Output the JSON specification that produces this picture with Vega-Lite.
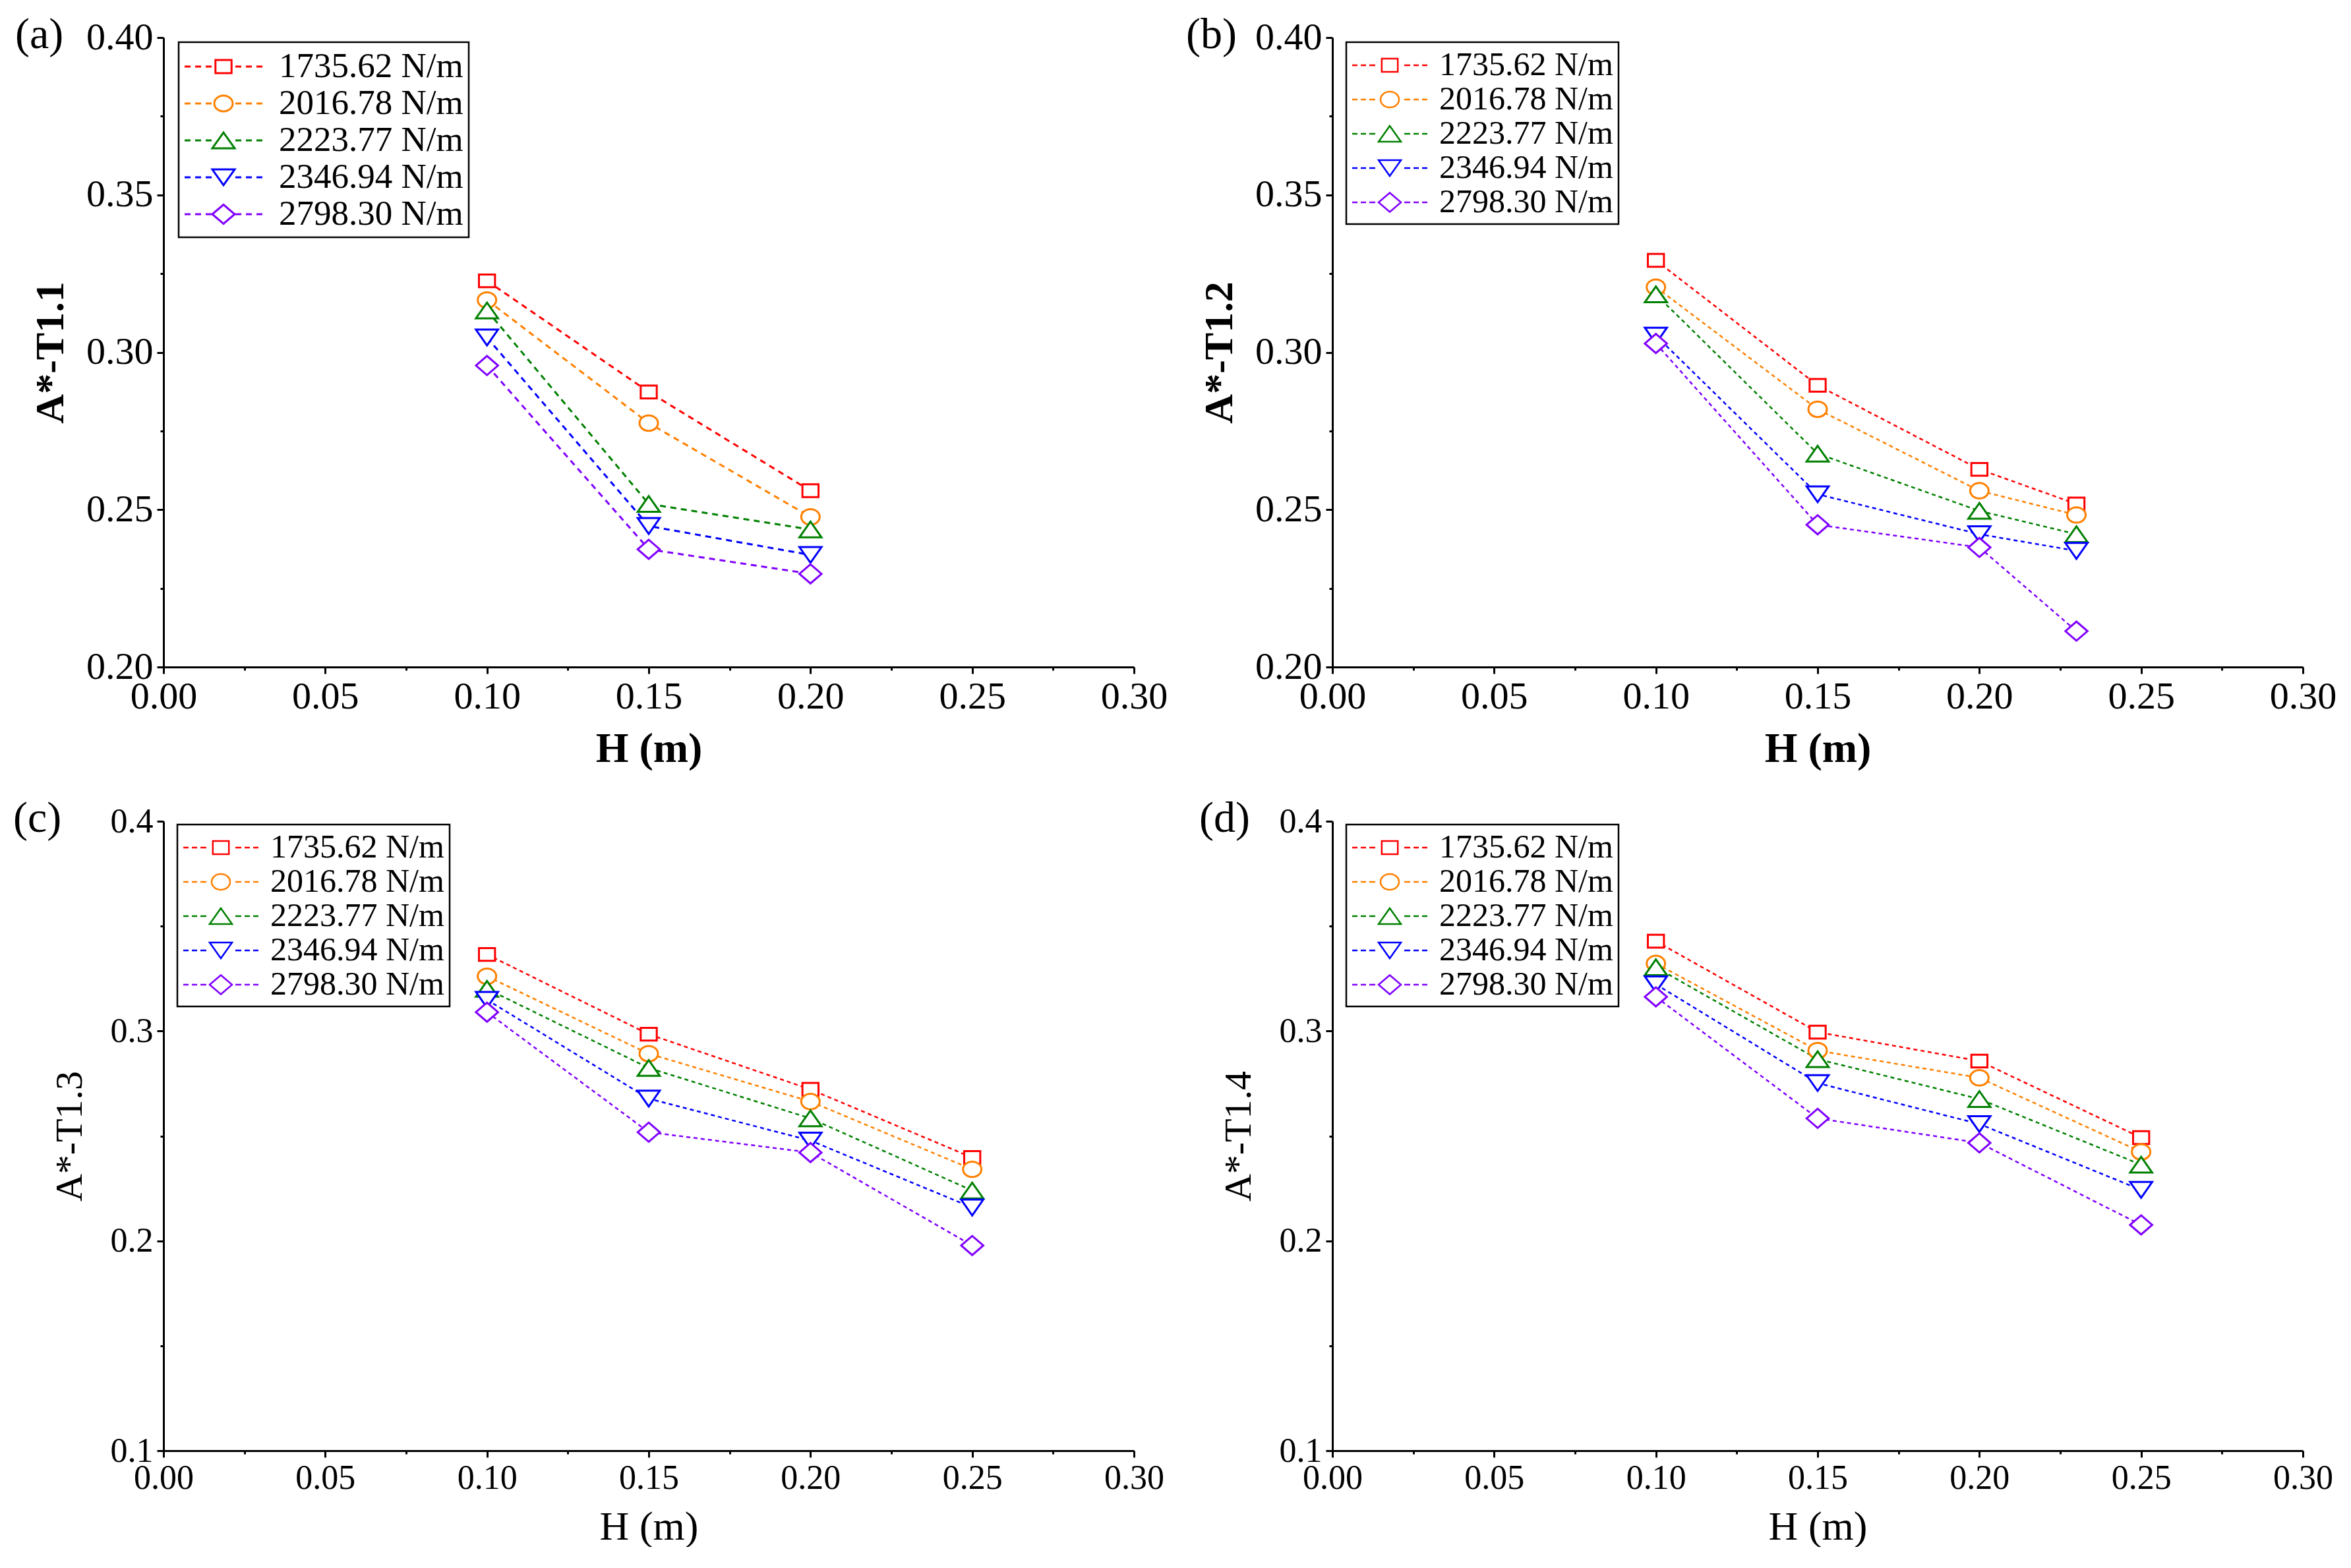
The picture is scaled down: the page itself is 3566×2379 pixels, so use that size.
{
  "$schema": "https://vega.github.io/schema/vega-lite/v6.json",
  "padding": {"left": 20, "top": 20, "right": 0, "bottom": 0},
  "background": "white",
  "datasets": {
    "a": [
      {"H": 0.10, "A": 0.3227, "s": "1735.62 N/m"}, {"H": 0.15, "A": 0.2874, "s": "1735.62 N/m"}, {"H": 0.20, "A": 0.2560, "s": "1735.62 N/m"},
      {"H": 0.10, "A": 0.3166, "s": "2016.78 N/m"}, {"H": 0.15, "A": 0.2775, "s": "2016.78 N/m"}, {"H": 0.20, "A": 0.2477, "s": "2016.78 N/m"},
      {"H": 0.10, "A": 0.3133, "s": "2223.77 N/m"}, {"H": 0.15, "A": 0.2518, "s": "2223.77 N/m"}, {"H": 0.20, "A": 0.2437, "s": "2223.77 N/m"},
      {"H": 0.10, "A": 0.3047, "s": "2346.94 N/m"}, {"H": 0.15, "A": 0.2448, "s": "2346.94 N/m"}, {"H": 0.20, "A": 0.2356, "s": "2346.94 N/m"},
      {"H": 0.10, "A": 0.2958, "s": "2798.30 N/m"}, {"H": 0.15, "A": 0.2374, "s": "2798.30 N/m"}, {"H": 0.20, "A": 0.2296, "s": "2798.30 N/m"}
    ],
    "b": [
      {"H": 0.10, "A": 0.3292, "s": "1735.62 N/m"}, {"H": 0.15, "A": 0.2895, "s": "1735.62 N/m"}, {"H": 0.20, "A": 0.2628, "s": "1735.62 N/m"}, {"H": 0.23, "A": 0.2518, "s": "1735.62 N/m"},
      {"H": 0.10, "A": 0.3207, "s": "2016.78 N/m"}, {"H": 0.15, "A": 0.2819, "s": "2016.78 N/m"}, {"H": 0.20, "A": 0.2560, "s": "2016.78 N/m"}, {"H": 0.23, "A": 0.2483, "s": "2016.78 N/m"},
      {"H": 0.10, "A": 0.3184, "s": "2223.77 N/m"}, {"H": 0.15, "A": 0.2678, "s": "2223.77 N/m"}, {"H": 0.20, "A": 0.2496, "s": "2223.77 N/m"}, {"H": 0.23, "A": 0.2422, "s": "2223.77 N/m"},
      {"H": 0.10, "A": 0.3053, "s": "2346.94 N/m"}, {"H": 0.15, "A": 0.2549, "s": "2346.94 N/m"}, {"H": 0.20, "A": 0.2422, "s": "2346.94 N/m"}, {"H": 0.23, "A": 0.2369, "s": "2346.94 N/m"},
      {"H": 0.10, "A": 0.3028, "s": "2798.30 N/m"}, {"H": 0.15, "A": 0.2452, "s": "2798.30 N/m"}, {"H": 0.20, "A": 0.2380, "s": "2798.30 N/m"}, {"H": 0.23, "A": 0.2114, "s": "2798.30 N/m"}
    ],
    "c": [
      {"H": 0.10, "A": 0.3365, "s": "1735.62 N/m"}, {"H": 0.15, "A": 0.2985, "s": "1735.62 N/m"}, {"H": 0.20, "A": 0.2722, "s": "1735.62 N/m"}, {"H": 0.25, "A": 0.2397, "s": "1735.62 N/m"},
      {"H": 0.10, "A": 0.3261, "s": "2016.78 N/m"}, {"H": 0.15, "A": 0.2892, "s": "2016.78 N/m"}, {"H": 0.20, "A": 0.2664, "s": "2016.78 N/m"}, {"H": 0.25, "A": 0.2341, "s": "2016.78 N/m"},
      {"H": 0.10, "A": 0.3201, "s": "2223.77 N/m"}, {"H": 0.15, "A": 0.2824, "s": "2223.77 N/m"}, {"H": 0.20, "A": 0.2584, "s": "2223.77 N/m"}, {"H": 0.25, "A": 0.2240, "s": "2223.77 N/m"},
      {"H": 0.10, "A": 0.3149, "s": "2346.94 N/m"}, {"H": 0.15, "A": 0.2678, "s": "2346.94 N/m"}, {"H": 0.20, "A": 0.2478, "s": "2346.94 N/m"}, {"H": 0.25, "A": 0.2159, "s": "2346.94 N/m"},
      {"H": 0.10, "A": 0.3090, "s": "2798.30 N/m"}, {"H": 0.15, "A": 0.2518, "s": "2798.30 N/m"}, {"H": 0.20, "A": 0.2421, "s": "2798.30 N/m"}, {"H": 0.25, "A": 0.1978, "s": "2798.30 N/m"}
    ],
    "d": [
      {"H": 0.10, "A": 0.3428, "s": "1735.62 N/m"}, {"H": 0.15, "A": 0.2995, "s": "1735.62 N/m"}, {"H": 0.20, "A": 0.2857, "s": "1735.62 N/m"}, {"H": 0.25, "A": 0.2492, "s": "1735.62 N/m"},
      {"H": 0.10, "A": 0.3322, "s": "2016.78 N/m"}, {"H": 0.15, "A": 0.2907, "s": "2016.78 N/m"}, {"H": 0.20, "A": 0.2777, "s": "2016.78 N/m"}, {"H": 0.25, "A": 0.2424, "s": "2016.78 N/m"},
      {"H": 0.10, "A": 0.3304, "s": "2223.77 N/m"}, {"H": 0.15, "A": 0.2866, "s": "2223.77 N/m"}, {"H": 0.20, "A": 0.2676, "s": "2223.77 N/m"}, {"H": 0.25, "A": 0.2363, "s": "2223.77 N/m"},
      {"H": 0.10, "A": 0.3223, "s": "2346.94 N/m"}, {"H": 0.15, "A": 0.2752, "s": "2346.94 N/m"}, {"H": 0.20, "A": 0.2557, "s": "2346.94 N/m"}, {"H": 0.25, "A": 0.2243, "s": "2346.94 N/m"},
      {"H": 0.10, "A": 0.3163, "s": "2798.30 N/m"}, {"H": 0.15, "A": 0.2584, "s": "2798.30 N/m"}, {"H": 0.20, "A": 0.2467, "s": "2798.30 N/m"}, {"H": 0.25, "A": 0.2076, "s": "2798.30 N/m"}
    ]
  },
  "columns": 2,
  "bounds": "flush",
  "spacing": {"row": 234, "column": 301},
  "resolve": {
    "scale": {"color": "independent", "shape": "independent"},
    "legend": {"color": "independent", "shape": "independent"}
  },
  "concat": [
    {
      "width": 1472,
      "height": 955,
      "data": {"name": "a"},
      "title": {"text": "(a)", "anchor": "start", "frame": "group", "offset": 0, "dx": -225, "dy": 91, "baseline": "middle", "fontSize": 66, "fontWeight": "normal", "font": "Liberation Serif", "color": "black"},
      "encoding": {
        "x": {
          "field": "H", "type": "quantitative",
          "scale": {"domain": [0, 0.3], "nice": false, "zero": false},
          "axis": {
            "title": "H (m)", "titleFontWeight": "bold", "titleFontSize": 64, "titlePadding": 18,
            "labelFontSize": 58,
            "values": [0, 0.025, 0.05, 0.075, 0.1, 0.125, 0.15, 0.175, 0.2, 0.225, 0.25, 0.275, 0.3],
            "labelExpr": "abs(datum.value*20-round(datum.value*20))>0.01 ? '' : format(datum.value,'.2f')",
            "tickSize": {"condition": {"test": "abs(datum.value*20-round(datum.value*20))>0.01", "value": 5}, "value": 10}
          }
        },
        "y": {
          "field": "A", "type": "quantitative",
          "scale": {"domain": [0.2, 0.4], "nice": false, "zero": false},
          "axis": {
            "title": "A*-T1.1", "titleFontWeight": "bold", "titleFontSize": 62, "titlePadding": 22,
            "labelFontSize": 58,
            "values": [0.2, 0.225, 0.25, 0.275, 0.3, 0.325, 0.35, 0.375, 0.4],
            "labelExpr": "abs(datum.value*20-round(datum.value*20))>0.01 ? '' : format(datum.value,'.2f')",
            "tickSize": {"condition": {"test": "abs(datum.value*20-round(datum.value*20))>0.01", "value": 5}, "value": 10}
          }
        }
      },
      "layer": [
        {
          "mark": {"type": "line", "strokeWidth": 3, "strokeDash": [9, 7]},
          "encoding": {
            "color": {
              "field": "s", "type": "nominal",
              "scale": {"domain": ["1735.62 N/m", "2016.78 N/m", "2223.77 N/m", "2346.94 N/m", "2798.30 N/m"], "range": ["#FF0000", "#FF8000", "#008000", "#0000FF", "#8000FF"]},
              "legend": {
                "orient": "none", "legendX": 23, "legendY": 7, "title": null,
                "symbolSize": 3025, "symbolOffset": 31, "rowPadding": 0, "padding": 8,
                "labelFontSize": 53, "labelOffset": 55, "labelLimit": 1000,
                "encode": {"symbols": {"update": {
                  "shape": {"signal": "['M-2.145,0L-1.818,0M-1.564,0L-1.236,0M-0.982,0L-0.655,0M0.655,0L0.982,0M1.236,0L1.564,0M1.818,0L2.145,0M-0.444,-0.364L0.444,-0.364L0.444,0.364L-0.444,0.364Z','M-2.145,0L-1.818,0M-1.564,0L-1.236,0M-0.982,0L-0.655,0M0.655,0L0.982,0M1.236,0L1.564,0M1.818,0L2.145,0M0.509,0A0.509 0.436 0 1 1 -0.509 0A0.509 0.436 0 1 1 0.509 0Z','M-2.145,0L-1.818,0M-1.564,0L-1.236,0M-0.982,0L-0.655,0M0.655,0L0.982,0M1.236,0L1.564,0M1.818,0L2.145,0M0,-0.436L0.618,0.436L-0.618,0.436Z','M-2.145,0L-1.818,0M-1.564,0L-1.236,0M-0.982,0L-0.655,0M0.655,0L0.982,0M1.236,0L1.564,0M1.818,0L2.145,0M0,0.436L0.618,-0.436L-0.618,-0.436Z','M-2.145,0L-1.818,0M-1.564,0L-1.236,0M-0.982,0L-0.655,0M0.655,0L0.982,0M1.236,0L1.564,0M1.818,0L2.145,0M-0.618,0L0,-0.527L0.618,0L0,0.527Z'][datum.index]"},
                  "strokeDash": {"value": []},
                  "strokeWidth": {"value": 3},
                  "fill": {"value": "white"}
                }}}
              }
            }
          }
        },
        {
          "mark": {"type": "point", "filled": false, "fill": "white", "opacity": 1, "strokeWidth": 3, "size": 500},
          "encoding": {
            "color": {"field": "s", "type": "nominal"},
            "shape": {
              "field": "s", "type": "nominal", "legend": null,
              "scale": {"domain": ["2798.30 N/m", "2346.94 N/m", "2223.77 N/m", "2016.78 N/m", "1735.62 N/m"], "range": ["M-1.5,0L0,-1.3L1.5,0L0,1.3Z", "M0,1.07L1.5,-1.07L-1.5,-1.07Z", "M0,-1.07L1.5,1.07L-1.5,1.07Z", "M1.25,0A1.25 1.05 0 1 1 -1.25 0A1.25 1.05 0 1 1 1.25 0Z", "M-1.09,-0.87L1.09,-0.87L1.09,0.87L-1.09,0.87Z"]}
            }
          }
        }
      ]
    },
    {
      "width": 1472,
      "height": 955,
      "data": {"name": "b"},
      "title": {"text": "(b)", "anchor": "start", "frame": "group", "offset": 0, "dx": -222, "dy": 91, "baseline": "middle", "fontSize": 66, "fontWeight": "normal", "font": "Liberation Serif", "color": "black"},
      "encoding": {
        "x": {
          "field": "H", "type": "quantitative",
          "scale": {"domain": [0, 0.3], "nice": false, "zero": false},
          "axis": {
            "title": "H (m)", "titleFontWeight": "bold", "titleFontSize": 64, "titlePadding": 18,
            "labelFontSize": 58,
            "values": [0, 0.025, 0.05, 0.075, 0.1, 0.125, 0.15, 0.175, 0.2, 0.225, 0.25, 0.275, 0.3],
            "labelExpr": "abs(datum.value*20-round(datum.value*20))>0.01 ? '' : format(datum.value,'.2f')",
            "tickSize": {"condition": {"test": "abs(datum.value*20-round(datum.value*20))>0.01", "value": 5}, "value": 10}
          }
        },
        "y": {
          "field": "A", "type": "quantitative",
          "scale": {"domain": [0.2, 0.4], "nice": false, "zero": false},
          "axis": {
            "title": "A*-T1.2", "titleFontWeight": "bold", "titleFontSize": 62, "titlePadding": 22,
            "labelFontSize": 58,
            "values": [0.2, 0.225, 0.25, 0.275, 0.3, 0.325, 0.35, 0.375, 0.4],
            "labelExpr": "abs(datum.value*20-round(datum.value*20))>0.01 ? '' : format(datum.value,'.2f')",
            "tickSize": {"condition": {"test": "abs(datum.value*20-round(datum.value*20))>0.01", "value": 5}, "value": 10}
          }
        }
      },
      "layer": [
        {
          "mark": {"type": "line", "strokeWidth": 2.5, "strokeDash": [6, 5]},
          "encoding": {
            "color": {
              "field": "s", "type": "nominal",
              "scale": {"domain": ["1735.62 N/m", "2016.78 N/m", "2223.77 N/m", "2346.94 N/m", "2798.30 N/m"], "range": ["#FF0000", "#FF8000", "#008000", "#0000FF", "#8000FF"]},
              "legend": {
                "orient": "none", "legendX": 21, "legendY": 7, "title": null,
                "symbolSize": 2601, "symbolOffset": 31, "rowPadding": 0, "padding": 8,
                "labelFontSize": 50, "labelOffset": 48, "labelLimit": 1000,
                "encode": {"symbols": {"update": {
                  "shape": {"signal": "['M-2.235,0L-1.922,0M-1.725,0L-1.412,0M-1.216,0L-0.863,0M0.863,0L1.216,0M1.412,0L1.725,0M1.922,0L2.235,0M-0.478,-0.392L0.478,-0.392L0.478,0.392L-0.478,0.392Z','M-2.235,0L-1.922,0M-1.725,0L-1.412,0M-1.216,0L-0.863,0M0.863,0L1.216,0M1.412,0L1.725,0M1.922,0L2.235,0M0.549,0A0.549 0.471 0 1 1 -0.549 0A0.549 0.471 0 1 1 0.549 0Z','M-2.235,0L-1.922,0M-1.725,0L-1.412,0M-1.216,0L-0.863,0M0.863,0L1.216,0M1.412,0L1.725,0M1.922,0L2.235,0M0,-0.471L0.667,0.471L-0.667,0.471Z','M-2.235,0L-1.922,0M-1.725,0L-1.412,0M-1.216,0L-0.863,0M0.863,0L1.216,0M1.412,0L1.725,0M1.922,0L2.235,0M0,0.471L0.667,-0.471L-0.667,-0.471Z','M-2.235,0L-1.922,0M-1.725,0L-1.412,0M-1.216,0L-0.863,0M0.863,0L1.216,0M1.412,0L1.725,0M1.922,0L2.235,0M-0.667,0L0,-0.569L0.667,0L0,0.569Z'][datum.index]"},
                  "strokeDash": {"value": []},
                  "strokeWidth": {"value": 2.5},
                  "fill": {"value": "white"}
                }}}
              }
            }
          }
        },
        {
          "mark": {"type": "point", "filled": false, "fill": "white", "opacity": 1, "strokeWidth": 3, "size": 500},
          "encoding": {
            "color": {"field": "s", "type": "nominal"},
            "shape": {
              "field": "s", "type": "nominal", "legend": null,
              "scale": {"domain": ["2798.30 N/m", "2346.94 N/m", "2223.77 N/m", "2016.78 N/m", "1735.62 N/m"], "range": ["M-1.5,0L0,-1.3L1.5,0L0,1.3Z", "M0,1.07L1.5,-1.07L-1.5,-1.07Z", "M0,-1.07L1.5,1.07L-1.5,1.07Z", "M1.25,0A1.25 1.05 0 1 1 -1.25 0A1.25 1.05 0 1 1 1.25 0Z", "M-1.09,-0.87L1.09,-0.87L1.09,0.87L-1.09,0.87Z"]}
            }
          }
        }
      ]
    },
    {
      "width": 1472,
      "height": 955,
      "data": {"name": "c"},
      "title": {"text": "(c)", "anchor": "start", "frame": "group", "offset": 0, "dx": -228, "dy": 88, "baseline": "middle", "fontSize": 66, "fontWeight": "normal", "font": "Liberation Serif", "color": "black"},
      "encoding": {
        "x": {
          "field": "H", "type": "quantitative",
          "scale": {"domain": [0, 0.3], "nice": false, "zero": false},
          "axis": {
            "title": "H (m)", "titleFontWeight": "normal", "titleFontSize": 62, "titlePadding": 18,
            "labelFontSize": 52,
            "values": [0, 0.025, 0.05, 0.075, 0.1, 0.125, 0.15, 0.175, 0.2, 0.225, 0.25, 0.275, 0.3],
            "labelExpr": "abs(datum.value*20-round(datum.value*20))>0.01 ? '' : format(datum.value,'.2f')",
            "tickSize": {"condition": {"test": "abs(datum.value*20-round(datum.value*20))>0.01", "value": 5}, "value": 10}
          }
        },
        "y": {
          "field": "A", "type": "quantitative",
          "scale": {"domain": [0.1, 0.4], "nice": false, "zero": false},
          "axis": {
            "title": "A*-T1.3", "titleFontWeight": "normal", "titleFontSize": 58, "titlePadding": 32,
            "labelFontSize": 52,
            "values": [0.1, 0.15, 0.2, 0.25, 0.3, 0.35, 0.4],
            "labelExpr": "abs(datum.value*10-round(datum.value*10))>0.01 ? '' : format(datum.value,'.1f')",
            "tickSize": {"condition": {"test": "abs(datum.value*10-round(datum.value*10))>0.01", "value": 5}, "value": 10}
          }
        }
      },
      "layer": [
        {
          "mark": {"type": "line", "strokeWidth": 2.5, "strokeDash": [6, 5]},
          "encoding": {
            "color": {
              "field": "s", "type": "nominal",
              "scale": {"domain": ["1735.62 N/m", "2016.78 N/m", "2223.77 N/m", "2346.94 N/m", "2798.30 N/m"], "range": ["#FF0000", "#FF8000", "#008000", "#0000FF", "#8000FF"]},
              "legend": {
                "orient": "none", "legendX": 21, "legendY": 5, "title": null,
                "symbolSize": 2601, "symbolOffset": 31, "rowPadding": 0, "padding": 8,
                "labelFontSize": 50, "labelOffset": 48, "labelLimit": 1000,
                "encode": {"symbols": {"update": {
                  "shape": {"signal": "['M-2.235,0L-1.922,0M-1.725,0L-1.412,0M-1.216,0L-0.863,0M0.863,0L1.216,0M1.412,0L1.725,0M1.922,0L2.235,0M-0.478,-0.392L0.478,-0.392L0.478,0.392L-0.478,0.392Z','M-2.235,0L-1.922,0M-1.725,0L-1.412,0M-1.216,0L-0.863,0M0.863,0L1.216,0M1.412,0L1.725,0M1.922,0L2.235,0M0.549,0A0.549 0.471 0 1 1 -0.549 0A0.549 0.471 0 1 1 0.549 0Z','M-2.235,0L-1.922,0M-1.725,0L-1.412,0M-1.216,0L-0.863,0M0.863,0L1.216,0M1.412,0L1.725,0M1.922,0L2.235,0M0,-0.471L0.667,0.471L-0.667,0.471Z','M-2.235,0L-1.922,0M-1.725,0L-1.412,0M-1.216,0L-0.863,0M0.863,0L1.216,0M1.412,0L1.725,0M1.922,0L2.235,0M0,0.471L0.667,-0.471L-0.667,-0.471Z','M-2.235,0L-1.922,0M-1.725,0L-1.412,0M-1.216,0L-0.863,0M0.863,0L1.216,0M1.412,0L1.725,0M1.922,0L2.235,0M-0.667,0L0,-0.569L0.667,0L0,0.569Z'][datum.index]"},
                  "strokeDash": {"value": []},
                  "strokeWidth": {"value": 2.5},
                  "fill": {"value": "white"}
                }}}
              }
            }
          }
        },
        {
          "mark": {"type": "point", "filled": false, "fill": "white", "opacity": 1, "strokeWidth": 3, "size": 500},
          "encoding": {
            "color": {"field": "s", "type": "nominal"},
            "shape": {
              "field": "s", "type": "nominal", "legend": null,
              "scale": {"domain": ["2798.30 N/m", "2346.94 N/m", "2223.77 N/m", "2016.78 N/m", "1735.62 N/m"], "range": ["M-1.5,0L0,-1.3L1.5,0L0,1.3Z", "M0,1.07L1.5,-1.07L-1.5,-1.07Z", "M0,-1.07L1.5,1.07L-1.5,1.07Z", "M1.25,0A1.25 1.05 0 1 1 -1.25 0A1.25 1.05 0 1 1 1.25 0Z", "M-1.09,-0.87L1.09,-0.87L1.09,0.87L-1.09,0.87Z"]}
            }
          }
        }
      ]
    },
    {
      "width": 1472,
      "height": 955,
      "data": {"name": "d"},
      "title": {"text": "(d)", "anchor": "start", "frame": "group", "offset": 0, "dx": -202, "dy": 88, "baseline": "middle", "fontSize": 66, "fontWeight": "normal", "font": "Liberation Serif", "color": "black"},
      "encoding": {
        "x": {
          "field": "H", "type": "quantitative",
          "scale": {"domain": [0, 0.3], "nice": false, "zero": false},
          "axis": {
            "title": "H (m)", "titleFontWeight": "normal", "titleFontSize": 62, "titlePadding": 18,
            "labelFontSize": 52,
            "values": [0, 0.025, 0.05, 0.075, 0.1, 0.125, 0.15, 0.175, 0.2, 0.225, 0.25, 0.275, 0.3],
            "labelExpr": "abs(datum.value*20-round(datum.value*20))>0.01 ? '' : format(datum.value,'.2f')",
            "tickSize": {"condition": {"test": "abs(datum.value*20-round(datum.value*20))>0.01", "value": 5}, "value": 10}
          }
        },
        "y": {
          "field": "A", "type": "quantitative",
          "scale": {"domain": [0.1, 0.4], "nice": false, "zero": false},
          "axis": {
            "title": "A*-T1.4", "titleFontWeight": "normal", "titleFontSize": 58, "titlePadding": 32,
            "labelFontSize": 52,
            "values": [0.1, 0.15, 0.2, 0.25, 0.3, 0.35, 0.4],
            "labelExpr": "abs(datum.value*10-round(datum.value*10))>0.01 ? '' : format(datum.value,'.1f')",
            "tickSize": {"condition": {"test": "abs(datum.value*10-round(datum.value*10))>0.01", "value": 5}, "value": 10}
          }
        }
      },
      "layer": [
        {
          "mark": {"type": "line", "strokeWidth": 2.5, "strokeDash": [6, 5]},
          "encoding": {
            "color": {
              "field": "s", "type": "nominal",
              "scale": {"domain": ["1735.62 N/m", "2016.78 N/m", "2223.77 N/m", "2346.94 N/m", "2798.30 N/m"], "range": ["#FF0000", "#FF8000", "#008000", "#0000FF", "#8000FF"]},
              "legend": {
                "orient": "none", "legendX": 21, "legendY": 5, "title": null,
                "symbolSize": 2601, "symbolOffset": 31, "rowPadding": 0, "padding": 8,
                "labelFontSize": 50, "labelOffset": 48, "labelLimit": 1000,
                "encode": {"symbols": {"update": {
                  "shape": {"signal": "['M-2.235,0L-1.922,0M-1.725,0L-1.412,0M-1.216,0L-0.863,0M0.863,0L1.216,0M1.412,0L1.725,0M1.922,0L2.235,0M-0.478,-0.392L0.478,-0.392L0.478,0.392L-0.478,0.392Z','M-2.235,0L-1.922,0M-1.725,0L-1.412,0M-1.216,0L-0.863,0M0.863,0L1.216,0M1.412,0L1.725,0M1.922,0L2.235,0M0.549,0A0.549 0.471 0 1 1 -0.549 0A0.549 0.471 0 1 1 0.549 0Z','M-2.235,0L-1.922,0M-1.725,0L-1.412,0M-1.216,0L-0.863,0M0.863,0L1.216,0M1.412,0L1.725,0M1.922,0L2.235,0M0,-0.471L0.667,0.471L-0.667,0.471Z','M-2.235,0L-1.922,0M-1.725,0L-1.412,0M-1.216,0L-0.863,0M0.863,0L1.216,0M1.412,0L1.725,0M1.922,0L2.235,0M0,0.471L0.667,-0.471L-0.667,-0.471Z','M-2.235,0L-1.922,0M-1.725,0L-1.412,0M-1.216,0L-0.863,0M0.863,0L1.216,0M1.412,0L1.725,0M1.922,0L2.235,0M-0.667,0L0,-0.569L0.667,0L0,0.569Z'][datum.index]"},
                  "strokeDash": {"value": []},
                  "strokeWidth": {"value": 2.5},
                  "fill": {"value": "white"}
                }}}
              }
            }
          }
        },
        {
          "mark": {"type": "point", "filled": false, "fill": "white", "opacity": 1, "strokeWidth": 3, "size": 500},
          "encoding": {
            "color": {"field": "s", "type": "nominal"},
            "shape": {
              "field": "s", "type": "nominal", "legend": null,
              "scale": {"domain": ["2798.30 N/m", "2346.94 N/m", "2223.77 N/m", "2016.78 N/m", "1735.62 N/m"], "range": ["M-1.5,0L0,-1.3L1.5,0L0,1.3Z", "M0,1.07L1.5,-1.07L-1.5,-1.07Z", "M0,-1.07L1.5,1.07L-1.5,1.07Z", "M1.25,0A1.25 1.05 0 1 1 -1.25 0A1.25 1.05 0 1 1 1.25 0Z", "M-1.09,-0.87L1.09,-0.87L1.09,0.87L-1.09,0.87Z"]}
            }
          }
        }
      ]
    }
  ],
  "config": {
    "font": "Liberation Serif",
    "view": {"stroke": null},
    "axis": {
      "domainColor": "black", "domainWidth": 3, "tickColor": "black", "tickWidth": 3,
      "labelFont": "Liberation Serif", "labelColor": "black", "labelPadding": 6,
      "titleFont": "Liberation Serif", "titleColor": "black",
      "grid": false, "labelFlush": false, "labelOverlap": false
    },
    "legend": {
      "labelFont": "Liberation Serif", "labelColor": "black",
      "strokeColor": "black", "strokeWidth": 2.5, "fillColor": "white", "cornerRadius": 0
    }
  }
}
